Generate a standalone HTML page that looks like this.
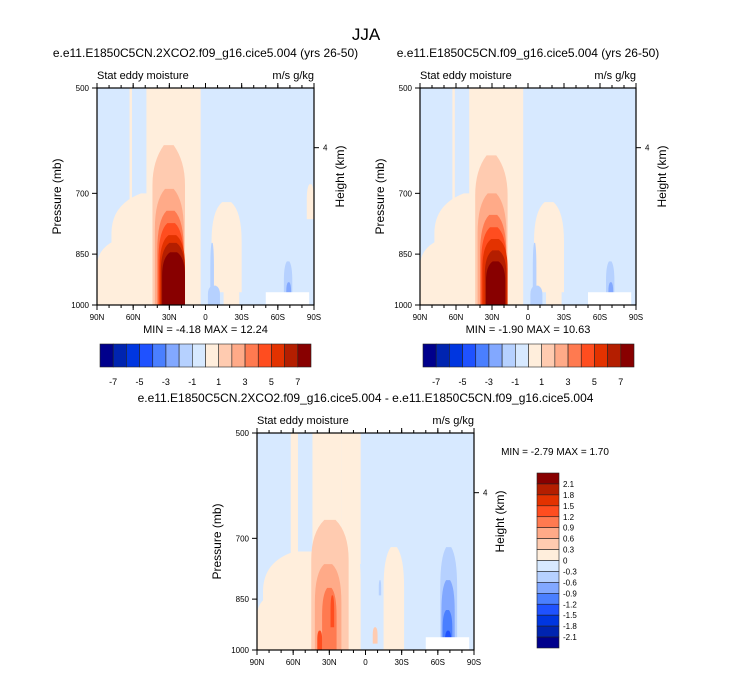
<!DOCTYPE html>
<html><head><meta charset="utf-8"><style>
body{margin:0;background:#fff;}
svg text{font-family:"Liberation Sans",sans-serif;fill:#000;}
</style></head><body>
<svg id="fig" width="733" height="673" xmlns="http://www.w3.org/2000/svg">
<text x="366" y="40" font-size="17" text-anchor="middle">JJA</text>
</svg>
<script>
// ---- data ----
const colors = ["#00008c","#0024b0","#0036e0","#1f52ff","#4a7fff","#82a8ff","#b6d1ff","#d7e9ff","#ffeedc","#ffcbb0","#ffaa88","#ff7a50","#ff4d1f","#e33200","#b41e00","#880000"];
const cbLabels1 = ["-7","-5","-3","-1","1","3","5","7"];
const cbLabels3 = ["2.1","1.8","1.5","1.2","0.9","0.6","0.3","0","-0.3","-0.6","-0.9","-1.2","-1.5","-1.8","-2.1"];
const latTicks = ["90N","60N","30N","0","30S","60S","90S"];
const latTickVals = [90,60,30,0,-30,-60,-90];
const presTicks = [500,700,850,1000];
// blobs: [latNorth, latSouth, pTop, pBottom, level]
const blobs1 = [
 [63,61,500,1000,8],[49,4,500,1000,8],[78,8,700,1000,8],[90,8,800,1000,8],[-5,-30,720,960,8],[-15,-28,780,1000,8],[-84,-90,680,760,8],
 [44,17,600,1000,9],[42,18,690,1000,10],[40,18,740,1000,11],[39,18,770,1000,12],[38,17,800,1000,13],[37,17,820,1000,14],[36,17,845,1000,15],
 [-4,-7,820,980,6],[-2,-12,940,1000,6],[-65,-72,870,1000,6],[-67,-71,930,990,5]
];
const blobs2 = [
 [63,61,500,1000,8],[49,4,500,1000,8],[78,8,700,1000,8],[90,8,800,1000,8],[-5,-30,720,960,8],[-15,-28,780,1000,8],
 [44,17,620,1000,9],[42,18,700,1000,10],[40,18,750,1000,11],[39,18,780,1000,12],[38,17,810,1000,13],[36,18,840,1000,14],[35,19,870,1000,15],
 [-4,-7,820,980,6],[-2,-12,940,1000,6],[-65,-72,870,1000,6],[-67,-71,930,990,5]
];
const blobs3 = [
 [62,56,500,1000,8],[44,20,500,1000,8],[20,4,500,760,8],[28,4,700,1000,8],[85,10,730,1000,8],[90,10,820,1000,8],[-15,-32,720,1000,8],
 [45,14,660,1000,9],[42,20,760,1000,10],[36,24,820,1000,11],[29,26,840,930,12],[40,36,940,1000,12],
 [-6,-10,930,980,9],
 [-62,-76,720,1000,6],[-63,-74,800,1000,5],[-64,-72,880,1000,4],[-66,-71,940,1000,3],[-67,-70,970,1000,1],
 [-11,-13,800,840,6]
];
const panels = [
 {x:97,y:88,w:217,h:217,title:"e.e11.E1850C5CN.2XCO2.f09_g16.cice5.004 (yrs 26-50)",blobs:blobs1,min:"-4.18",max:"12.24",cb:"h",cbx:100},
 {x:420,y:88,w:216,h:217,title:"e.e11.E1850C5CN.f09_g16.cice5.004 (yrs 26-50)",blobs:blobs2,min:"-1.90",max:"10.63",cb:"h",cbx:423},
 {x:257,y:433,w:217,h:217,title:"e.e11.E1850C5CN.2XCO2.f09_g16.cice5.004 - e.e11.E1850C5CN.f09_g16.cice5.004",blobs:blobs3,min:"-2.79",max:"1.70",cb:"v"}
];
// ---- drawing ----
const NS="http://www.w3.org/2000/svg";
const svg=document.getElementById('fig');
function mk(tag,attrs,parent){const e=document.createElementNS(NS,tag);for(const k in attrs)e.setAttribute(k,attrs[k]);(parent||svg).appendChild(e);return e;}
function txt(x,y,s,size,anchor,parent){const t=mk('text',{x:x,y:y,'font-size':size,'text-anchor':anchor||'start'},parent);t.textContent=s;return t;}
panels.forEach((P,pi)=>{
 const g=mk('g',{});
 
 
 const xs=lat=>P.x+(90-lat)/180*P.w;
 const ys=p=>P.y+(Math.log(p)-Math.log(500))/(Math.log(1000)-Math.log(500))*P.h;
 const clipId='clip'+pi;
 const cp=mk('clipPath',{id:clipId},g);mk('rect',{x:P.x,y:P.y,width:P.w,height:P.h},cp);
 const bg=mk('rect',{x:P.x,y:P.y,width:P.w,height:P.h,fill:colors[7]},g);
 
 
 const cg=mk('g',{'clip-path':'url(#'+clipId+')'},g);
 P.blobs.forEach(b=>{
  const x0=xs(b[0]),x1=xs(b[1]),y0=ys(b[2]),y1=ys(b[3]);
  const w=x1-x0,h=y1-y0,cx=(x0+x1)/2;
  let d;
  if(b[2]<=500){d=`M${x0},${y1} L${x0},${y0-2} L${x1},${y0-2} L${x1},${y1} Z`;}
  else{
   const tw=w*0.3, ym=y0+Math.min(h*0.45,40);
   d=`M${x0},${y1} L${x0},${ym} Q${x0},${y0+h*0.1} ${cx-tw/2},${y0} L${cx+tw/2},${y0} Q${x1},${y0+h*0.1} ${x1},${ym} L${x1},${y1} Z`;
  }
  const pth=mk('path',{d:d,fill:colors[b[4]]},cg);
  
  
 });
 mk('rect',{x:xs(-50),y:ys(960),width:xs(-86)-xs(-50),height:P.y+P.h-ys(960),fill:'#fff'},cg);
 mk('rect',{x:P.x,y:P.y,width:P.w,height:P.h,fill:'none',stroke:'#000','stroke-width':1.2},g);
 latTickVals.forEach((v,i)=>{
  const x=xs(v);
  mk('line',{x1:x,y1:P.y+P.h,x2:x,y2:P.y+P.h+5,stroke:'#000'},g);
  mk('line',{x1:x,y1:P.y,x2:x,y2:P.y-5,stroke:'#000'},g);
  const t=txt(x,P.y+P.h+15,latTicks[i],8,'middle',g);
  
  
 });
 for(let v=-80;v<=80;v+=10){const x=xs(v);mk('line',{x1:x,y1:P.y+P.h,x2:x,y2:P.y+P.h+3,stroke:'#000'},g);mk('line',{x1:x,y1:P.y,x2:x,y2:P.y-3,stroke:'#000'},g);}
 presTicks.forEach(p=>{
  const y=ys(p);
  mk('line',{x1:P.x,y1:y,x2:P.x-5,y2:y,stroke:'#000'},g);
  const t=txt(P.x-8,y+3,String(p),8,'end',g);
  
  
 });
 const hy=ys(605);
 mk('line',{x1:P.x+P.w,y1:hy,x2:P.x+P.w+5,y2:hy,stroke:'#000'},g);
 txt(P.x+P.w+9,hy+3,'4',8,'start',g);
 const tt=txt(P.x+P.w/2,P.y-31,P.title,12,'middle',g);
 
 
 txt(P.x,P.y-9,'Stat eddy moisture',11,'start',g);
 txt(P.x+P.w,P.y-9,'m/s g/kg',11,'end',g);
 const yl=txt(0,0,'Pressure (mb)',12,'middle',g);
 yl.setAttribute('transform',`translate(${P.x-36},${P.y+P.h/2}) rotate(-90)`);
 
 
 const yr=txt(0,0,'Height (km)',12,'middle',g);
 yr.setAttribute('transform',`translate(${P.x+P.w+30},${P.y+P.h/2-20}) rotate(-90)`);
 
 
 if(P.cb==='h'){
  const ms=txt(P.x+P.w/2,P.y+P.h+28,`MIN = ${P.min}  MAX = ${P.max}`,11,'middle',g);
  
  
  const cb=mk('g',{},g);
  
  
  const bw=211/16;
  colors.forEach((c,i)=>mk('rect',{x:P.cbx+i*bw,y:344,width:bw,height:23,fill:c,stroke:'#222','stroke-width':0.6},cb));
  cbLabels1.forEach((l,i)=>txt(P.cbx+(1+2*i)*bw,385,l,9,'middle',cb));
 }else{
  const ms=txt(555,455,`MIN = ${P.min}  MAX = ${P.max}`,10,'middle',g);
  
  
  const cb=mk('g',{},g);
  
  
  const bh=175/16;
  for(let i=0;i<16;i++) mk('rect',{x:537,y:473+i*bh,width:22,height:bh,fill:colors[15-i],stroke:'#222','stroke-width':0.6},cb);
  cbLabels3.forEach((l,i)=>txt(563,473+(i+1)*bh+3,l,8,'start',cb));
 }
});
</script>
</body></html>
